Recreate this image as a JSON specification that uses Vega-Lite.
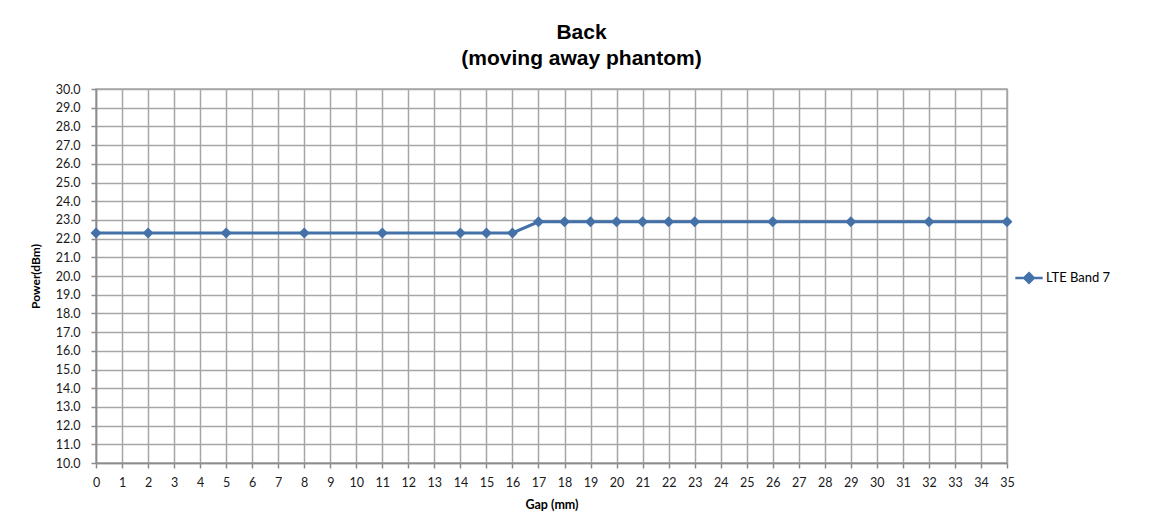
{
  "$schema": "https://vega.github.io/schema/vega-lite/v6.json",
  "width": 911,
  "height": 374,
  "autosize": {"type": "none"},
  "padding": {"left": 96, "top": 89, "right": 144, "bottom": 67},
  "background": "white",
  "title": {
    "text": ["Back", "(moving away phantom)"],
    "font": "Liberation Sans",
    "fontSize": 21,
    "fontWeight": "bold",
    "color": "#000000",
    "anchor": "middle",
    "dx": 30,
    "offset": 14,
    "lineHeight": 26
  },
  "data": {
    "values": [
      {"gap": 0, "power": 22.3, "series": "LTE Band 7"},
      {"gap": 2, "power": 22.3, "series": "LTE Band 7"},
      {"gap": 5, "power": 22.3, "series": "LTE Band 7"},
      {"gap": 8, "power": 22.3, "series": "LTE Band 7"},
      {"gap": 11, "power": 22.3, "series": "LTE Band 7"},
      {"gap": 14, "power": 22.3, "series": "LTE Band 7"},
      {"gap": 15, "power": 22.3, "series": "LTE Band 7"},
      {"gap": 16, "power": 22.3, "series": "LTE Band 7"},
      {"gap": 17, "power": 22.9, "series": "LTE Band 7"},
      {"gap": 18, "power": 22.9, "series": "LTE Band 7"},
      {"gap": 19, "power": 22.9, "series": "LTE Band 7"},
      {"gap": 20, "power": 22.9, "series": "LTE Band 7"},
      {"gap": 21, "power": 22.9, "series": "LTE Band 7"},
      {"gap": 22, "power": 22.9, "series": "LTE Band 7"},
      {"gap": 23, "power": 22.9, "series": "LTE Band 7"},
      {"gap": 26, "power": 22.9, "series": "LTE Band 7"},
      {"gap": 29, "power": 22.9, "series": "LTE Band 7"},
      {"gap": 32, "power": 22.9, "series": "LTE Band 7"},
      {"gap": 35, "power": 22.9, "series": "LTE Band 7"}
    ]
  },
  "encoding": {
    "x": {
      "field": "gap",
      "type": "quantitative",
      "scale": {"domain": [0, 35], "nice": false, "zero": false},
      "axis": {
        "title": "Gap (mm)",
        "values": [0,1,2,3,4,5,6,7,8,9,10,11,12,13,14,15,16,17,18,19,20,21,22,23,24,25,26,27,28,29,30,31,32,33,34,35],
        "format": "d",
        "labelFont": "Lato",
        "labelFontSize": 12.5,
        "labelColor": "#1a1a1a",
        "labelPadding": 8,
        "labelFlush": false,
        "titleFont": "Lato",
        "titleFontSize": 12.5,
        "titleFontWeight": "bold",
        "titleColor": "#000000",
        "titlePadding": 10,
        "grid": true,
        "gridColor": "#a6a6a6",
        "gridWidth": 1.5,
        "domainColor": "#8c8c8c",
        "domainWidth": 1.5,
        "tickColor": "#8c8c8c",
        "tickWidth": 1.5,
        "tickSize": 5
      }
    },
    "y": {
      "field": "power",
      "type": "quantitative",
      "scale": {"domain": [10, 30], "nice": false, "zero": false},
      "axis": {
        "title": "Power(dBm)",
        "values": [10,11,12,13,14,15,16,17,18,19,20,21,22,23,24,25,26,27,28,29,30],
        "format": ".1f",
        "labelFont": "Lato",
        "labelFontSize": 12.5,
        "labelColor": "#1a1a1a",
        "labelPadding": 11,
        "labelFlush": false,
        "titleFont": "Lato",
        "titleFontSize": 12,
        "titleFontWeight": "bold",
        "titleColor": "#000000",
        "titlePadding": 13,
        "grid": true,
        "gridColor": "#a6a6a6",
        "gridWidth": 1.5,
        "domainColor": "#8c8c8c",
        "domainWidth": 1.5,
        "tickColor": "#8c8c8c",
        "tickWidth": 1.5,
        "tickSize": 5
      }
    },
    "color": {
      "field": "series",
      "type": "nominal",
      "scale": {"range": ["#4472a8"]},
      "legend": {
        "title": null,
        "orient": "none",
        "legendX": 918,
        "legendY": 174,
        "symbolType": "M-1,0L1,0M0,-0.35L0.35,0L0,0.35L-0.35,0Z",
        "symbolSize": 750,
        "symbolStrokeWidth": 2.5,
        "symbolFillColor": "#4472a8",
        "symbolStrokeColor": "#4472a8",
        "labelFont": "Lato",
        "labelFontSize": 13,
        "labelColor": "#000000",
        "labelOffset": 2
      }
    }
  },
  "layer": [
    {"mark": {"type": "line", "strokeWidth": 3}},
    {"mark": {"type": "point", "shape": "diamond", "filled": true, "size": 120, "opacity": 1}}
  ],
  "config": {
    "view": {"stroke": "#a6a6a6", "strokeWidth": 1.5}
  }
}
